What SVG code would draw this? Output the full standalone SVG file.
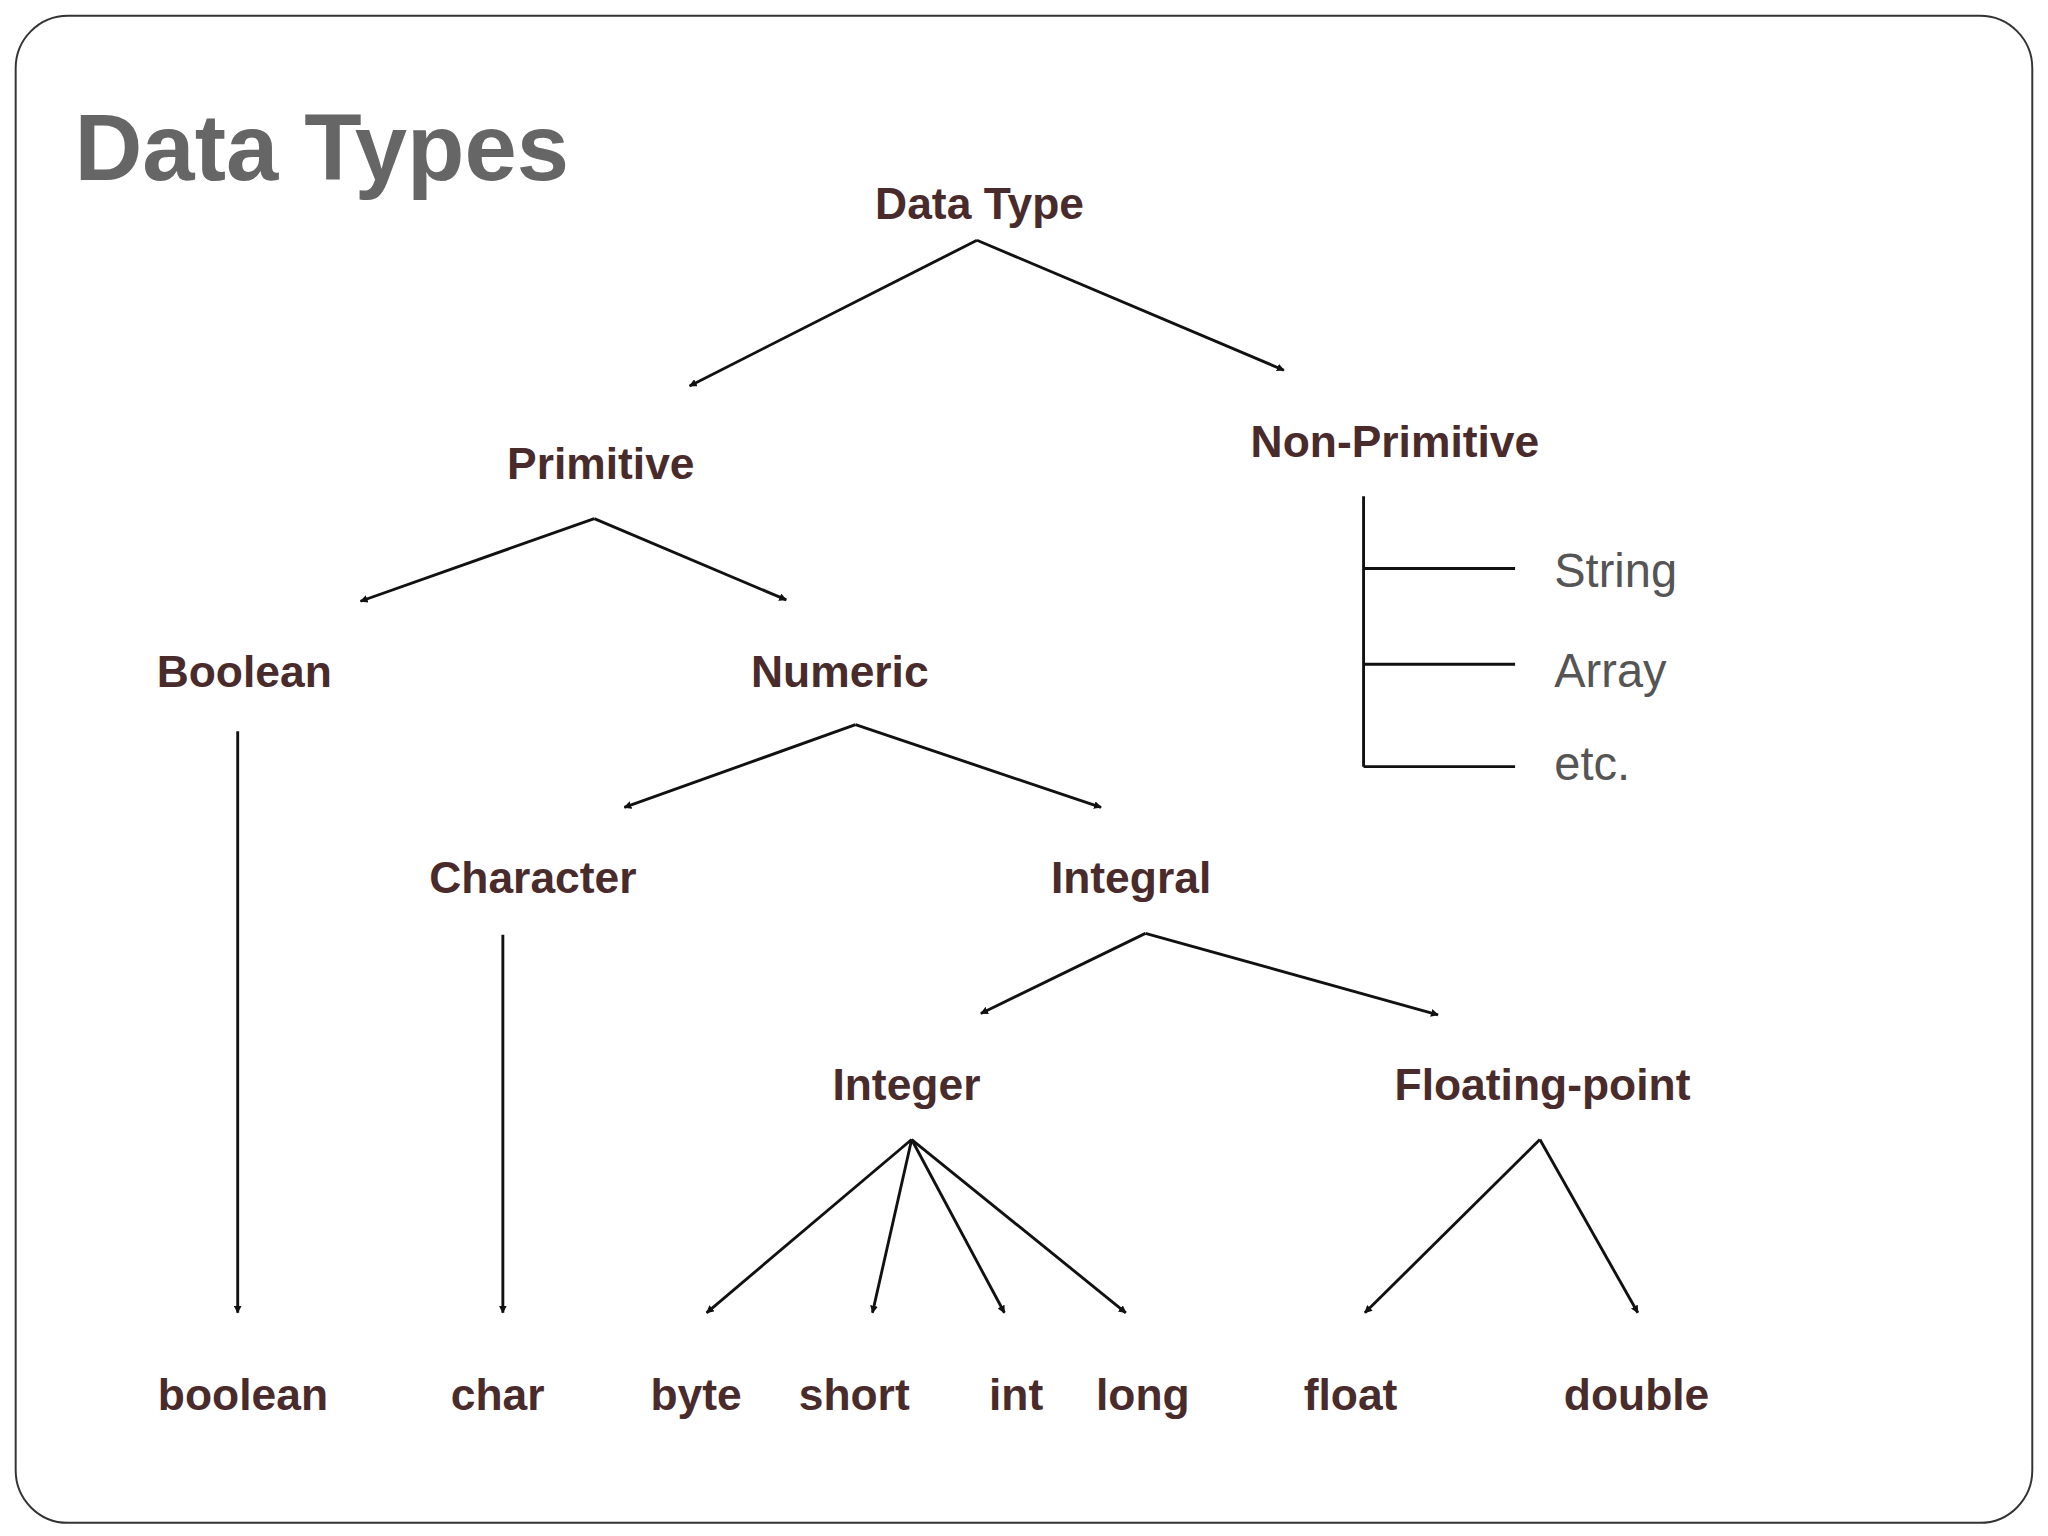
<svg xmlns="http://www.w3.org/2000/svg" width="2048" height="1536" viewBox="0 0 2048 1536">
<defs>
<marker id="ah" viewBox="0 0 10 10" refX="9" refY="5" markerWidth="6" markerHeight="6" orient="auto" markerUnits="userSpaceOnUse">
<path d="M0,0 L10,5 L0,10 z" fill="#111"/>
</marker>
<style>
.n{font-family:"Liberation Sans",Arial,sans-serif;font-weight:bold;font-size:34px;fill:#4a2b2b;text-anchor:middle}
.s{font-family:"Liberation Sans",Arial,sans-serif;font-size:36px;fill:#555}
.c line{stroke:#111;stroke-width:2.2}
.c .a{marker-end:url(#ah)}
</style>
</defs>
<rect width="2048" height="1536" fill="#fff"/>
<g transform="scale(1.3061,1.3128)">
<rect x="12" y="12" width="1544" height="1148" rx="40" fill="#fff" stroke="#333" stroke-width="1.5"/>
<text x="57" y="137" font-family="Liberation Sans,Arial,sans-serif" font-weight="bold" font-size="72" fill="#666">Data Types</text>
<g class="c" id="connectors">
<line class="a" x1="748" y1="183" x2="528" y2="294"/>
<line class="a" x1="748" y1="183" x2="983" y2="282"/>
<line class="a" x1="455" y1="395" x2="276" y2="458"/>
<line class="a" x1="455" y1="395" x2="602" y2="457"/>
<line class="a" x1="655" y1="552" x2="478" y2="615"/>
<line class="a" x1="655" y1="552" x2="843" y2="615"/>
<line class="a" x1="877" y1="711" x2="751" y2="772"/>
<line class="a" x1="877" y1="711" x2="1101" y2="773"/>
<line class="a" x1="698" y1="868" x2="541" y2="1000"/>
<line class="a" x1="698" y1="868" x2="668" y2="1000"/>
<line class="a" x1="698" y1="868" x2="769" y2="1000"/>
<line class="a" x1="698" y1="868" x2="862" y2="1000"/>
<line class="a" x1="1179" y1="868" x2="1045" y2="1000"/>
<line class="a" x1="1179" y1="868" x2="1254" y2="1000"/>
<line class="a" x1="182" y1="557" x2="182" y2="1000"/>
<line class="a" x1="385" y1="712" x2="385" y2="1000"/>
<line x1="1044" y1="378" x2="1044" y2="584"/>
<line x1="1044" y1="433" x2="1160" y2="433"/>
<line x1="1044" y1="506" x2="1160" y2="506"/>
<line x1="1044" y1="584" x2="1160" y2="584"/>
</g>
<g id="datatype"><text class="n" x="750" y="167">Data Type</text></g>
<g id="primitive"><text class="n" x="460" y="365">Primitive</text></g>
<g id="nonprimitive"><text class="n" x="1068" y="348">Non-Primitive</text></g>
<g id="booleanC"><text class="n" x="187" y="523">Boolean</text></g>
<g id="numeric"><text class="n" x="643" y="523">Numeric</text></g>
<g id="character"><text class="n" x="408" y="680">Character</text></g>
<g id="integral"><text class="n" x="866" y="680">Integral</text></g>
<g id="integer"><text class="n" x="694" y="838">Integer</text></g>
<g id="floating"><text class="n" x="1181" y="838">Floating-point</text></g>
<g id="boolean"><text class="n" x="186" y="1074">boolean</text></g>
<g id="char"><text class="n" x="381" y="1074">char</text></g>
<g id="byte"><text class="n" x="533" y="1074">byte</text></g>
<g id="short"><text class="n" x="654" y="1074">short</text></g>
<g id="int"><text class="n" x="778" y="1074">int</text></g>
<g id="long"><text class="n" x="875" y="1074">long</text></g>
<g id="float"><text class="n" x="1034" y="1074">float</text></g>
<g id="double"><text class="n" x="1253" y="1074">double</text></g>
<g id="string"><text class="s" x="1190" y="447">String</text></g>
<g id="array"><text class="s" x="1190" y="523">Array</text></g>
<g id="etc"><text class="s" x="1190" y="594">etc.</text></g>
</g>
</svg>
